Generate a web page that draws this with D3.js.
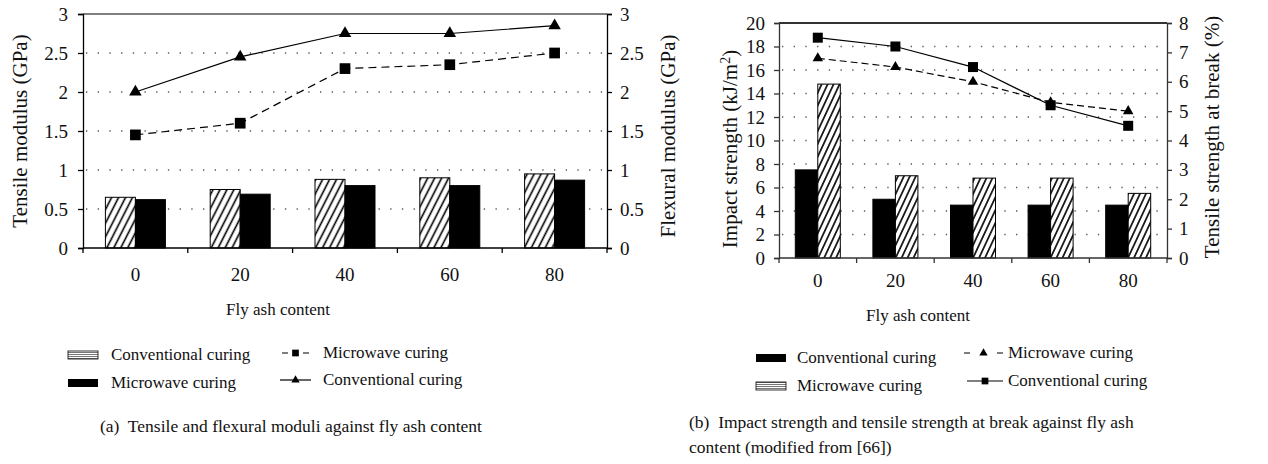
<!DOCTYPE html>
<html>
<head>
<meta charset="utf-8">
<script src="https://cdn.jsdelivr.net/npm/d3@7"></script>
<style>
  body { margin: 0; background: #fff; }
  text { font-family: "Liberation Serif", "Times New Roman", serif; fill: #111; }
</style>
</head>
<body>
<svg id="chart" width="1268" height="464"></svg>
<script>
// categories (fly ash content)
var categories = ["0", "20", "40", "60", "80"];

// panel (a): tensile modulus bars, flexural modulus lines (GPa)
var tensileConventional = [0.65, 0.75, 0.88, 0.90, 0.95];
var tensileMicrowave = [0.62, 0.69, 0.80, 0.80, 0.87];
var flexuralMicrowave = [1.45, 1.60, 2.30, 2.35, 2.50];
var flexuralConventional = [2.00, 2.45, 2.75, 2.75, 2.85];
var ticksA = [0, 0.5, 1, 1.5, 2, 2.5, 3];

// panel (b): impact strength bars (kJ/m2), tensile strength at break lines (%)
var impactConventional = [7.5, 5.0, 4.5, 4.5, 4.5];
var impactMicrowave = [14.8, 7.0, 6.8, 6.8, 5.5];
var breakMicrowave = [6.8, 6.5, 6.0, 5.3, 5.0];
var breakConventional = [7.5, 7.2, 6.5, 5.2, 4.5];
var ticksBLeft = [0, 2, 4, 6, 8, 10, 12, 14, 16, 18, 20];
var ticksBRight = [0, 1, 2, 3, 4, 5, 6, 7, 8];

var svg = d3.select("#chart");
var defs = svg.append("defs");

// diagonal hatch for bars
function hatch(id, gap, rot) {
    var p = defs.append("pattern")
        .attr("id", id)
        .attr("patternUnits", "userSpaceOnUse")
        .attr("width", gap).attr("height", gap)
        .attr("patternTransform", "rotate(" + rot + ")");
    p.append("rect").attr("width", gap).attr("height", gap).attr("fill", "#fff");
    p.append("line").attr("x1", gap / 2).attr("x2", gap / 2)
        .attr("y1", 0).attr("y2", gap)
        .attr("stroke", "#000").attr("stroke-width", 1.6);
}
hatch("hatchA", 6.2, 27);
hatch("hatchB", 5.4, 25);

// legend hatch: fine horizontal lines
var lp = defs.append("pattern")
    .attr("id", "hatchLegend")
    .attr("patternUnits", "userSpaceOnUse")
    .attr("width", 4).attr("height", 2);
lp.append("rect").attr("width", 4).attr("height", 2).attr("fill", "#fff");
lp.append("rect").attr("width", 4).attr("height", 1).attr("fill", "#777");

function panel(cfg) {
    var g = svg.append("g");
    var x = d3.scaleBand().domain(categories)
        .range([cfg.left, cfg.right])
        .paddingInner(cfg.pad).paddingOuter(cfg.pad / 2);
    var yL = d3.scaleLinear().domain([0, cfg.maxL]).range([cfg.bottom, cfg.top]);
    var yR = d3.scaleLinear().domain([0, cfg.maxR]).range([cfg.bottom, cfg.top]);
    var x1 = d3.scaleBand().domain([0, 1]).range([0, x.bandwidth()]);

    // dotted grid
    g.selectAll(".grid").data(cfg.ticksL.slice(1, -1)).enter().append("line")
        .attr("x1", cfg.left + 3).attr("x2", cfg.right)
        .attr("y1", function (d) { return yL(d); })
        .attr("y2", function (d) { return yL(d); })
        .attr("stroke", "#555").attr("stroke-width", 1.3)
        .attr("stroke-dasharray", "1.3,10.4");

    // top border
    g.append("line")
        .attr("x1", cfg.left).attr("x2", cfg.right)
        .attr("y1", cfg.top).attr("y2", cfg.top)
        .attr("stroke", cfg.axisColor).attr("stroke-width", cfg.topWidth);

    // bars
    cfg.bars.forEach(function (s, k) {
        g.selectAll(".bar" + k).data(s.values).enter().append("rect")
            .attr("x", function (d, i) { return x(categories[i]) + x1(k); })
            .attr("y", function (d) { return yL(d); })
            .attr("width", x1.bandwidth())
            .attr("height", function (d) { return yL(0) - yL(d); })
            .attr("fill", s.hatched ? "url(#" + cfg.hatch + ")" : "#000")
            .attr("stroke", "#000").attr("stroke-width", 1);
    });

    // lines on the right axis
    var line = d3.line()
        .x(function (d, i) { return x(categories[i]) + x.bandwidth() / 2; })
        .y(function (d) { return yR(d); });
    cfg.lines.forEach(function (s) {
        g.append("path").datum(s.values)
            .attr("d", line)
            .attr("fill", "none").attr("stroke", "#000").attr("stroke-width", 1.2)
            .attr("stroke-dasharray", s.dashed ? cfg.dash : null);
        g.selectAll(null).data(s.values).enter().append("path")
            .attr("transform", function (d, i) {
                return "translate(" + (x(categories[i]) + x.bandwidth() / 2) + "," + yR(d) + ")";
            })
            .attr("d", d3.symbol().type(s.symbol).size(s.symbol === d3.symbolSquare ? cfg.sqSize : cfg.triSize))
            .attr("fill", "#000");
    });

    // axes
    var axL = g.append("g").attr("transform", "translate(" + cfg.left + ",0)")
        .call(d3.axisLeft(yL).tickValues(cfg.ticksL).tickSize(5).tickPadding(cfg.padL).tickFormat(d3.format("")));
    var axR = g.append("g").attr("transform", "translate(" + cfg.right + ",0)")
        .call(d3.axisRight(yR).tickValues(cfg.ticksR).tickSize(5).tickPadding(cfg.padR).tickFormat(d3.format("")));
    var axB = g.append("g").attr("transform", "translate(0," + cfg.bottom + ")")
        .call(d3.axisBottom(x).tickSize(0).tickPadding(cfg.padB));
    [axL, axR, axB].forEach(function (a) {
        a.attr("font-family", null);
        a.select(".domain").attr("stroke", cfg.axisColor).attr("stroke-width", 1.3);
        a.selectAll(".tick line").attr("stroke", cfg.axisColor).attr("stroke-width", 1.3);
        a.selectAll("text").style("font-size", cfg.tickFont + "px").attr("fill", "#111")
            .style("font-family", '"Liberation Serif", serif');
    });
    axB.select(".domain").attr("d", "M" + cfg.left + ",0H" + cfg.right);

    // boundary ticks between categories
    var bounds = categories.map(function (c) { return x(c) - (x.step() - x.bandwidth()) / 2; });
    bounds.push(cfg.right);
    g.selectAll(".btick").data(bounds).enter().append("line")
        .attr("x1", function (d) { return d; }).attr("x2", function (d) { return d; })
        .attr("y1", cfg.bottom).attr("y2", cfg.bottom + 5)
        .attr("stroke", cfg.axisColor).attr("stroke-width", 1.3);

    // axis titles
    var tL = g.append("text")
        .attr("transform", "translate(" + cfg.titleL.x + "," + cfg.titleL.y + ") rotate(-90)")
        .attr("text-anchor", "middle").style("font-size", "21px");
    cfg.titleL.parts.forEach(function (p) {
        var t = tL.append("tspan").text(p.t);
        if (p.sup) t.attr("baseline-shift", "super").style("font-size", "14px");
    });
    g.append("text")
        .attr("transform", "translate(" + cfg.titleR.x + "," + cfg.titleR.y + ") rotate(-90)")
        .attr("text-anchor", "middle").style("font-size", "21px")
        .text(cfg.titleR.text);
    g.append("text")
        .attr("x", cfg.xTitle.x).attr("y", cfg.xTitle.y)
        .attr("text-anchor", "middle").style("font-size", "17px")
        .text("Fly ash content");

    // legend
    cfg.legend.forEach(function (it) {
        if (it.kind === "bar") {
            g.append("rect").attr("x", it.x).attr("y", it.y - 4).attr("width", 30).attr("height", 8)
                .attr("fill", it.hatched ? "url(#hatchLegend)" : "#000")
                .attr("stroke", "#000").attr("stroke-width", it.hatched ? 0.8 : 0);
        } else {
            g.append("line").attr("x1", it.x).attr("x2", it.x + it.w)
                .attr("y1", it.y).attr("y2", it.y)
                .attr("stroke", "#000").attr("stroke-width", 1.2)
                .attr("stroke-dasharray", it.dashed ? "6," + (it.w - 12) + ",6" : null);
            g.append("path")
                .attr("transform", "translate(" + (it.x + it.w / 2) + "," + it.y + ")")
                .attr("d", d3.symbol().type(it.symbol).size(it.symbol === d3.symbolSquare ? 45 : 30))
                .attr("fill", "#000");
        }
        g.append("text").attr("x", it.tx).attr("y", it.y).attr("dy", "0.32em")
            .style("font-size", "17px").text(it.label);
    });

    // caption
    cfg.caption.forEach(function (c) {
        g.append("text").attr("x", cfg.capX).attr("y", c.y).attr("dy", "0.32em")
            .style("font-size", "17.5px").attr("fill", "#222")
            .attr("xml:space", "preserve")
            .text(c.t);
    });
}

panel({
    left: 83, right: 607, top: 14, bottom: 248, pad: 0.4275,
    maxL: 3, maxR: 3, ticksL: ticksA, ticksR: ticksA,
    axisColor: "#000", topWidth: 1.2, hatch: "hatchA", dash: "8,5",
    sqSize: 115, triSize: 68, tickFont: 19, padL: 10, padR: 8, padB: 20,
    bars: [
        { values: tensileConventional, hatched: true },
        { values: tensileMicrowave, hatched: false }
    ],
    lines: [
        { values: flexuralMicrowave, dashed: true, symbol: d3.symbolSquare },
        { values: flexuralConventional, dashed: false, symbol: d3.symbolTriangle }
    ],
    titleL: { x: 27, y: 131, parts: [{ t: "Tensile modulus (GPa)" }] },
    titleR: { x: 675, y: 136, text: "Flexural modulus (GPa)" },
    xTitle: { x: 278, y: 315 },
    legend: [
        { kind: "bar", hatched: true, x: 68, y: 355, tx: 111, label: "Conventional curing" },
        { kind: "bar", hatched: false, x: 68, y: 383, tx: 111, label: "Microwave curing" },
        { kind: "line", dashed: true, symbol: d3.symbolSquare, x: 282, w: 27, y: 353, tx: 323, label: "Microwave curing" },
        { kind: "line", dashed: false, symbol: d3.symbolTriangle, x: 280, w: 31, y: 380, tx: 323, label: "Conventional curing" }
    ],
    capX: 100,
    caption: [{ t: "(a)  Tensile and flexural moduli against fly ash content", y: 426 }]
});

panel({
    left: 779, right: 1167, top: 23, bottom: 258, pad: 0.42,
    maxL: 20, maxR: 8, ticksL: ticksBLeft, ticksR: ticksBRight,
    axisColor: "#333", topWidth: 2, hatch: "hatchB", dash: "7,4",
    sqSize: 100, triSize: 48, tickFont: 19, padL: 9, padR: 7, padB: 16,
    bars: [
        { values: impactConventional, hatched: false },
        { values: impactMicrowave, hatched: true }
    ],
    lines: [
        { values: breakMicrowave, dashed: true, symbol: d3.symbolTriangle },
        { values: breakConventional, dashed: false, symbol: d3.symbolSquare }
    ],
    titleL: { x: 737, y: 149, parts: [{ t: "Impact strength (kJ/m" }, { t: "2", sup: true }, { t: ")" }] },
    titleR: { x: 1219, y: 137, text: "Tensile strength at break (%)" },
    xTitle: { x: 918, y: 321 },
    legend: [
        { kind: "bar", hatched: false, x: 756, y: 358, tx: 797, label: "Conventional curing" },
        { kind: "bar", hatched: true, x: 756, y: 386, tx: 797, label: "Microwave curing" },
        { kind: "line", dashed: true, symbol: d3.symbolTriangle, x: 964, w: 39, y: 353, tx: 1008, label: "Microwave curing" },
        { kind: "line", dashed: false, symbol: d3.symbolSquare, x: 967, w: 36, y: 381, tx: 1008, label: "Conventional curing" }
    ],
    capX: 689,
    caption: [
        { t: "(b)  Impact strength and tensile strength at break against fly ash", y: 422 },
        { t: "content (modified from [66])", y: 447 }
    ]
});
</script>
</body>
</html>
